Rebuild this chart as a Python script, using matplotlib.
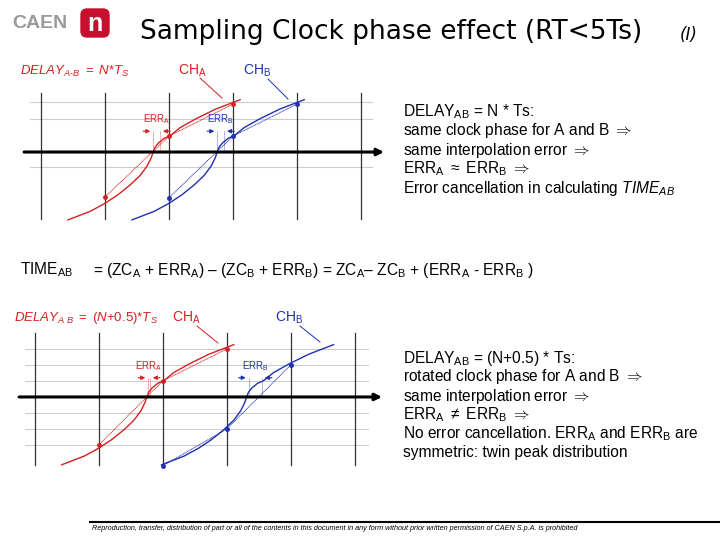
import matplotlib
matplotlib.use("Agg")
import matplotlib.pyplot as plt
from matplotlib.patches import FancyBboxPatch
import numpy as np

plt.rcParams['font.family'] = ['Liberation Sans', 'DejaVu Sans']
plt.rcParams['mathtext.fontset'] = 'custom'
plt.rcParams['mathtext.rm'] = 'Liberation Sans'
plt.rcParams['mathtext.it'] = 'Liberation Sans:italic'

RED = '#d42020'
BLUE = '#2030b0'

# signal shape (time in Ts units, amplitude)
curve_t = [0.42, 0.77, 1.0, 1.2, 1.39, 1.55, 1.66, 1.72, 1.75, 1.78, 1.83, 1.92, 2.02, 2.17, 2.41, 2.72, 3.11]
curve_y = [-4.24, -3.7, -3.2, -2.67, -2.06, -1.45, -0.85, -0.36, 0.0, 0.3, 0.55, 0.85, 1.03, 1.52, 2.06, 2.67, 3.27]
sample_t = [1, 2, 3]
# top panel (delay = N*Ts)
top_shift_b = 1.0
top_red_samples = [-2.8, 1.0, 3.0]
top_blue_samples = [-2.85, 1.0, 3.0]
# bottom panel (delay = (N+0.5)*Ts)
bot_shift_b = 1.56
bot_red_samples = [-3.0, 1.0, 3.0]
bot_blue_samples = [-4.3, -2.0, 2.0]

fig = plt.figure(figsize=(7.2, 5.4), dpi=100)
bg = fig.add_axes([0, 0, 1, 1])
bg.set_xlim(0, 720); bg.set_ylim(540, 0); bg.axis('off')

def panel(rect_px, xlim, ylim, hgrid, vext, hext, shift_b, rs, bs, bt, errs):
    x0, y0, x1, y1 = rect_px
    ax = fig.add_axes([x0/720, 1-y1/540, (x1-x0)/720, (y1-y0)/540])
    ax.set_xlim(*xlim); ax.set_ylim(*ylim); ax.axis('off')
    for g in hgrid:
        ax.plot(hext, [g, g], color='#cccccc', lw=0.8)
    for t in range(6):
        ax.plot([t, t], vext, color='#333333', lw=0.9)
    ax.annotate('', xy=(xlim[1]-0.05, 0), xytext=(xlim[0]+0.02, 0),
                arrowprops=dict(arrowstyle='-|>', color='black', lw=2.2, mutation_scale=10))
    ax.plot(curve_t, curve_y, color=RED, lw=1)
    ax.plot(np.array(curve_t)+shift_b, curve_y, color=BLUE, lw=1)
    ax.plot(sample_t, rs, color=RED, lw=0.7, ls=(0, (1, 0.6)), marker='o', ms=2.5)
    ax.plot(bt, bs, color=BLUE, lw=0.7, ls=(0, (1, 0.6)), marker='o', ms=2.5)
    for (xa, xb, yv, col, lab) in errs:
        ax.plot([xa, xa], [0, yv], color=col, lw=0.6, alpha=0.4)
        ax.plot([xb, xb], [0, yv], color=col, lw=0.6, alpha=0.4)
        ax.annotate('', xy=(xa, yv), xytext=(xa-0.2, yv),
                    arrowprops=dict(arrowstyle='-|>', color=col, lw=0.8, mutation_scale=6))
        ax.annotate('', xy=(xb, yv), xytext=(xb+0.2, yv),
                    arrowprops=dict(arrowstyle='-|>', color=col, lw=0.8, mutation_scale=6))
        ax.text((xa+xb)/2, yv+0.3, lab, color=col, fontsize=7, ha='center', va='bottom')
    return ax

panel((20, 88, 390, 225), (-0.33, 5.45), (-4.56, 4.0), [3.1, 2.06, -0.94],
      [3.7, -4.2], [-0.17, 5.17], top_shift_b, top_red_samples, top_blue_samples, [2, 3, 4],
      [(1.75, 1.86, 1.3, RED, r'ERR$_\mathrm{A}$'), (2.75, 2.86, 1.3, BLUE, r'ERR$_\mathrm{B}$')])
panel((15, 300, 388, 480), (-0.31, 5.52), (-5.19, 6.06), [3, 2, 1, -1, -2, -3],
      [4.0, -4.25], [-0.16, 5.2], bot_shift_b, bot_red_samples, bot_blue_samples, [2, 3, 4],
      [(1.77, 1.80, 1.2, RED, r'ERR$_\mathrm{A}$'), (3.34, 3.55, 1.2, BLUE, r'ERR$_\mathrm{B}$')])

# leader lines / labels
bg.text(20, 71, r'$\it{DELAY}_{\it{A\text{-}B}}\it{\ =\ N\text{*}T}_{\it{S}}$', color=RED, fontsize=9.5, va='center')
bg.text(178, 71, r'CH$_\mathrm{A}$', color=RED, fontsize=10, va='center')
bg.plot([200, 222], [78, 98], color=RED, lw=0.7)
bg.text(243, 71, r'CH$_\mathrm{B}$', color=BLUE, fontsize=10, va='center')
bg.plot([268, 288], [79, 99], color=BLUE, lw=0.7)
bg.text(14, 318, r'$\it{DELAY}_{\it{A\ B}}\it{\ =\ (N\text{+}0.5)\text{*}T}_{\it{S}}$', color=RED, fontsize=9.5, va='center')
bg.text(172, 318, r'CH$_\mathrm{A}$', color=RED, fontsize=10, va='center')
bg.plot([197, 218], [326, 343], color=RED, lw=0.7)
bg.text(275, 318, r'CH$_\mathrm{B}$', color=BLUE, fontsize=10, va='center')
bg.plot([300, 320], [326, 342], color=BLUE, lw=0.7)

# title + logo
bg.text(140, 32, 'Sampling Clock phase effect (RT<5Ts)', fontsize=19, family='DejaVu Sans', va='center')
bg.text(680, 35, '(I)', fontsize=12, family='DejaVu Sans', style='italic', va='center')
bg.text(12, 24, 'CAEN', fontsize=14, color='#9a9a9a', weight='bold', va='center')
bg.add_patch(FancyBboxPatch((81, 9), 28, 28, boxstyle='round,pad=0,rounding_size=6', color='#c8102e'))
bg.text(95, 24, 'n', fontsize=18, color='white', weight='bold', ha='center', va='center')

fs = 11.2
top_lines = [r'DELAY$_\mathrm{AB}$ = N * Ts:', r'same clock phase for A and B $\Rightarrow$',
             r'same interpolation error $\Rightarrow$', r'ERR$_\mathrm{A}$ $\approx$ ERR$_\mathrm{B}$ $\Rightarrow$',
             r'Error cancellation in calculating $\it{TIME}_{\it{AB}}$']
for i, s in enumerate(top_lines):
    bg.text(403, 112 + 19*i, s, fontsize=fs, va='center')
bot_lines = [r'DELAY$_\mathrm{AB}$ = (N+0.5) * Ts:', r'rotated clock phase for A and B $\Rightarrow$',
             r'same interpolation error $\Rightarrow$', r'ERR$_\mathrm{A}$ $\neq$ ERR$_\mathrm{B}$ $\Rightarrow$',
             r'No error cancellation. ERR$_\mathrm{A}$ and ERR$_\mathrm{B}$ are',
             'symmetric: twin peak distribution']
for i, s in enumerate(bot_lines):
    bg.text(403, 358 + 19*i, s, fontsize=fs, va='center')

bg.text(20, 270, r'TIME$_\mathrm{AB}$', fontsize=fs, va='center')
bg.text(93, 270, r'= (ZC$_\mathrm{A}$ + ERR$_\mathrm{A}$) – (ZC$_\mathrm{B}$ + ERR$_\mathrm{B}$) = ZC$_\mathrm{A}$– ZC$_\mathrm{B}$ + (ERR$_\mathrm{A}$ - ERR$_\mathrm{B}$ )',
        fontsize=fs, va='center')

bg.plot([90, 720], [522, 522], color='black', lw=1.5)
bg.text(92, 529, 'Reproduction, transfer, distribution of part or all of the contents in this document in any form without prior written permission of CAEN S.p.A. is prohibited',
        fontsize=5.2, style='italic', va='center')

fig.savefig('out.png', dpi=100)
